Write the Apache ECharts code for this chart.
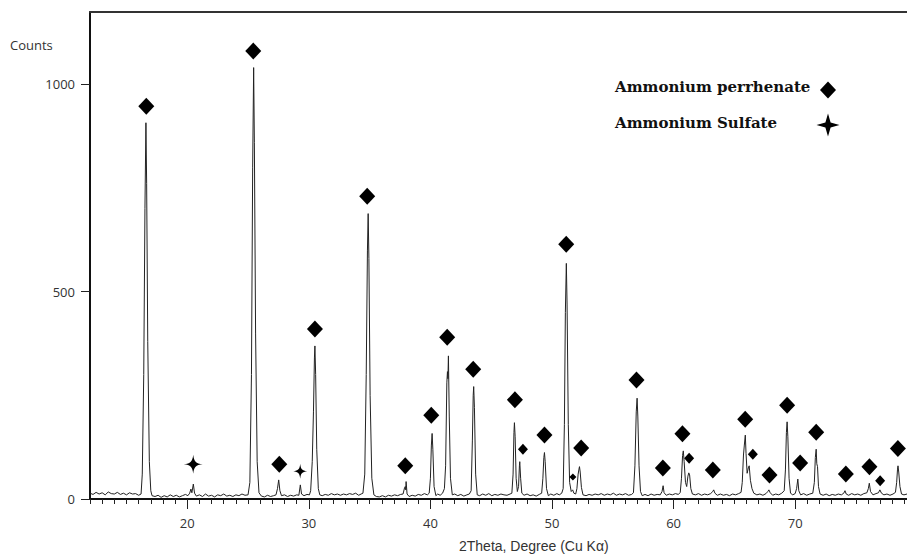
<!DOCTYPE html>
<html>
<head>
<meta charset="utf-8">
<script src="https://cdn.jsdelivr.net/npm/echarts@6/dist/echarts.min.js"></script>
<style>
html,body{margin:0;padding:0;background:#fff;}
#chart{width:907px;height:556px;}
</style>
</head>
<body>
<div id="chart"></div>
<script>
// ---- Data (2Theta in degrees, intensity in counts) ----
var xrdPattern = [
[12.0,14],[12.25,11],[12.5,16],[12.75,12],[13.0,15],[13.25,10],[13.5,17],[13.75,13],[14.0,12],[14.25,16],[14.5,11],[14.75,14],[15.0,10],[15.25,15],[15.5,12],[15.75,13],[16.0,9],
[16.2,12],[16.3,60],[16.42,300],[16.52,700],[16.6,907],[16.66,760],[16.75,380],[16.88,90],[17.0,20],
[17.1,8],[17.35,6],[17.6,9],[17.85,4],[18.1,8],[18.35,5],[18.6,10],[18.85,6],[19.1,9],[19.35,5],[19.6,8],[19.85,11],[20.05,8],
[20.2,14],[20.3,24],[20.38,15],[20.5,36],[20.6,14],[20.75,7],
[21.0,10],[21.25,6],[21.5,12],[21.75,7],[22.0,9],[22.25,5],[22.5,10],[22.75,8],[23.0,12],[23.25,7],[23.5,9],[23.75,6],[24.0,10],[24.25,8],[24.5,12],[24.75,9],
[25.0,10],[25.15,40],[25.28,300],[25.38,800],[25.46,1040],[25.52,860],[25.62,400],[25.75,90],[25.9,15],
[26.1,7],[26.35,5],[26.6,9],[26.85,6],[27.1,8],[27.3,10],
[27.42,25],[27.52,46],[27.62,20],[27.75,8],
[28.0,10],[28.25,6],[28.5,9],[28.75,7],[29.0,10],[29.18,9],[29.3,34],[29.4,12],[29.6,8],[29.85,11],[30.05,10],
[30.15,20],[30.28,90],[30.38,210],[30.46,340],[30.5,369],[30.56,300],[30.65,120],[30.78,25],[30.9,10],
[31.1,8],[31.35,11],[31.6,9],[31.85,13],[32.1,10],[32.35,12],[32.6,9],[32.85,12],[33.1,10],[33.35,13],[33.6,11],[33.85,14],[34.1,9],[34.3,12],
[34.45,14],[34.6,60],[34.72,300],[34.82,600],[34.88,688],[34.94,580],[35.04,250],[35.18,50],[35.35,10],
[35.55,6],[35.8,5],[36.05,8],[36.3,5],[36.55,9],[36.8,7],[37.05,10],[37.3,8],[37.55,11],[37.75,12],
[37.88,28],[37.93,30],[37.97,22],[38.0,42],[38.08,12],[38.25,6],
[38.5,9],[38.75,7],[39.0,11],[39.25,9],[39.5,13],[39.75,10],
[39.9,14],[40.0,50],[40.08,130],[40.14,158],[40.2,120],[40.3,30],[40.45,8],
[40.6,12],[40.8,9],[41.0,14],[41.15,25],
[41.25,80],[41.35,280],[41.4,307],[41.44,290],[41.48,345],[41.55,200],[41.65,50],[41.8,10],
[42.0,12],[42.25,8],[42.5,11],[42.75,7],[43.0,10],[43.2,12],
[43.35,20],[43.45,140],[43.52,250],[43.56,271],[43.62,220],[43.72,60],[43.85,10],
[44.05,8],[44.3,12],[44.55,9],[44.8,13],[45.05,8],[45.3,11],[45.55,9],[45.8,12],[46.05,10],[46.3,9],[46.55,12],[46.7,14],
[46.8,60],[46.87,160],[46.91,184],[46.97,150],[47.05,50],[47.15,18],[47.25,30],[47.32,80],[47.35,90],[47.42,50],[47.52,14],
[47.7,9],[47.95,12],[48.2,8],[48.45,10],[48.7,7],[48.95,11],[49.15,14],
[49.25,50],[49.33,100],[49.38,112],[49.44,90],[49.55,25],[49.7,8],
[49.9,12],[50.15,9],[50.4,13],[50.6,10],[50.8,14],
[50.92,25],[51.02,180],[51.1,450],[51.18,568],[51.24,470],[51.34,180],[51.45,40],[51.58,18],[51.7,22],[51.8,14],[51.95,12],
[52.05,25],[52.15,60],[52.22,72],[52.26,78],[52.32,65],[52.42,28],[52.55,10],
[52.8,8],[53.05,11],[53.3,9],[53.55,12],[53.8,10],[54.05,13],[54.3,9],[54.55,12],[54.8,10],[55.05,14],[55.3,9],[55.55,12],[55.8,10],[56.05,13],[56.3,9],[56.55,11],
[56.7,15],[56.82,80],[56.93,210],[57.0,243],[57.06,200],[57.16,80],[57.28,18],[57.42,8],
[57.65,11],[57.9,8],[58.15,12],[58.4,9],[58.65,11],[58.9,10],[59.05,18],[59.14,32],[59.22,15],[59.4,9],
[59.65,12],[59.9,10],[60.15,13],[60.4,11],[60.55,16],
[60.65,50],[60.74,105],[60.8,116],[60.87,90],[60.98,40],[61.08,30],[61.18,55],[61.25,63],[61.32,58],[61.42,25],[61.55,12],
[61.8,10],[62.05,13],[62.3,9],[62.55,12],[62.8,10],[63.05,13],[63.22,18],[63.3,22],[63.4,14],[63.6,9],
[63.85,12],[64.1,9],[64.35,11],[64.6,8],[64.85,12],[65.1,10],[65.35,13],[65.55,16],
[65.65,40],[65.75,106],[65.82,130],[65.9,154],[65.96,110],[66.05,62],[66.15,75],[66.22,80],[66.32,45],[66.45,25],[66.6,14],
[66.85,10],[67.1,12],[67.35,9],[67.6,13],[67.75,18],[67.84,22],[67.95,15],[68.15,9],
[68.4,12],[68.65,10],[68.9,14],[69.1,20],
[69.2,70],[69.28,160],[69.34,186],[69.4,150],[69.5,50],[69.62,14],[69.8,10],[70.0,13],[70.12,25],[70.22,48],[70.3,20],[70.45,10],
[70.7,13],[70.95,9],[71.2,12],[71.45,14],[71.58,40],
[71.66,100],[71.73,120],[71.78,85],[71.84,78],[71.92,30],[72.05,12],
[72.3,9],[72.55,12],[72.8,8],[73.05,11],[73.3,9],[73.55,12],[73.8,10],[74.0,14],[74.1,20],[74.2,12],[74.4,9],
[74.65,13],[74.9,10],[75.15,12],[75.4,9],[75.65,13],[75.9,15],[76.02,25],[76.1,38],[76.2,18],[76.4,10],
[76.65,13],[76.85,15],[76.97,22],[77.1,14],[77.3,10],[77.55,12],[77.8,9],[78.05,12],[78.25,16],
[78.35,40],[78.42,72],[78.46,80],[78.52,65],[78.62,30],[78.75,12],[78.95,10],[79.2,12]
];

// Phase markers: [2Theta, counts]
var perrhenateMarks = [
[16.63,947],[25.43,1080],[27.57,84],[30.5,410],[34.8,730],[37.93,80],[40.07,202],[41.38,390],
[43.52,313],[46.95,239],[49.38,154],[51.17,614],[52.4,123],[56.95,287],[59.12,75],[60.73,157],
[63.23,70],[65.89,192],[67.89,58],[69.34,226],[70.41,87],[71.73,161],[74.17,60],[76.11,78],[78.45,122]
];
var perrhenateMarksSmall = [[47.61,120],[61.28,98],[66.52,108],[76.99,44]];
var perrhenateMarksTiny = [[51.72,53]];
var sulfateMarks = [[20.49,84]];
var sulfateMarksSmall = [[29.29,67]];

var xTickLabels = [20,30,40,50,60,70];
var yTickLabels = [0,500,1000];
var legendNames = ['Ammonium perrhenate','Ammonium Sulfate'];
var xAxisTitle = '2Theta, Degree (Cu K\u03b1)';
var yAxisTitle = 'Counts';

// minor tick positions (every degree)
var minorTicks = [];
for (var d = 12; d <= 79; d++) minorTicks.push(d);

var starPath = 'path://M0,-10 C0.9,-2.6 2.6,-0.9 10,0 C2.6,0.9 0.9,2.6 0,10 C-0.9,2.6 -2.6,0.9 -10,0 C-2.6,-0.9 -0.9,-2.6 0,-10 Z';

function starPoints(cx, cy, r, ri) {
  return [[cx, cy - r], [cx + ri, cy - ri], [cx + r, cy], [cx + ri, cy + ri],
          [cx, cy + r], [cx - ri, cy + ri], [cx - r, cy], [cx - ri, cy - ri]];
}

var chart = echarts.init(document.getElementById('chart'), null, {renderer:'svg'});
var XMIN = 12, XMAX = 79.2, YMIN = 0, YMAX = 1174;
var markStyle = {color: '#000', opacity: 1};

chart.setOption({
  animation: false,
  backgroundColor: '#fff',
  grid: {left: 90, right: 0, top: 12, bottom: 57},
  xAxis: [
    {
      type: 'value', min: XMIN, max: XMAX, position: 'bottom',
      axisLine: {show: true, onZero: false, lineStyle: {color: '#111', width: 2}},
      axisTick: {show: true, length: 5, customValues: minorTicks, lineStyle: {color: '#222', width: 1}},
      axisLabel: {show: true, customValues: xTickLabels, margin: 17, color: '#333',
                  fontFamily: 'Open Sans', fontSize: 13, formatter: function (v) { return String(v); }},
      splitLine: {show: false}
    },
    {
      type: 'value', min: XMIN, max: XMAX, position: 'bottom', gridIndex: 0,
      axisLine: {show: false},
      axisTick: {show: true, length: 10, customValues: xTickLabels, lineStyle: {color: '#222', width: 1}},
      axisLabel: {show: false},
      splitLine: {show: false}
    },
    {
      type: 'value', min: XMIN, max: XMAX, position: 'top', gridIndex: 0,
      axisLine: {show: true, onZero: false, lineStyle: {color: '#333', width: 2}},
      axisTick: {show: false}, axisLabel: {show: false}, splitLine: {show: false}
    }
  ],
  yAxis: {
    type: 'value', min: YMIN, max: YMAX,
    axisLine: {show: true, onZero: false, lineStyle: {color: '#111', width: 2}},
    axisTick: {show: true, length: 9, customValues: yTickLabels, lineStyle: {color: '#222', width: 1}},
    axisLabel: {show: true, customValues: yTickLabels, margin: 15, color: '#333',
                fontFamily: 'Open Sans', fontSize: 13, formatter: function (v) { return String(v); }},
    splitLine: {show: false}
  },
  series: [
    {
      type: 'line', name: 'pattern', data: xrdPattern, xAxisIndex: 0,
      showSymbol: false, symbol: 'none', smooth: false,
      lineStyle: {color: '#222', width: 1}, z: 2
    },
    {type: 'scatter', name: legendNames[0], data: perrhenateMarks, symbol: 'diamond', symbolSize: [16, 17],
     itemStyle: markStyle, z: 3},
    {type: 'scatter', name: legendNames[0], data: perrhenateMarksSmall, symbol: 'diamond', symbolSize: [10, 11],
     itemStyle: markStyle, z: 3},
    {type: 'scatter', name: legendNames[0], data: perrhenateMarksTiny, symbol: 'diamond', symbolSize: [7, 7],
     itemStyle: markStyle, z: 3},
    {type: 'scatter', name: legendNames[1], data: sulfateMarks, symbol: starPath, symbolSize: [19, 19],
     itemStyle: markStyle, z: 3},
    {type: 'scatter', name: legendNames[1], data: sulfateMarksSmall, symbol: starPath, symbolSize: [14, 15],
     itemStyle: markStyle, z: 3}
  ],
  graphic: [
    {type: 'text', x: 10, y: 38, style: {text: yAxisTitle, fill: '#333', font: '13px "Open Sans"'}},
    {type: 'text', x: 459, y: 539, style: {text: xAxisTitle, fill: '#333', font: '14px "Liberation Sans"'}},
    {type: 'text', x: 615, y: 79, style: {text: legendNames[0], fill: '#111', font: 'bold 15px "DejaVu Serif"'}},
    {type: 'text', x: 615, y: 115, style: {text: legendNames[1], fill: '#111', font: 'bold 15px "DejaVu Serif"'}},
    {type: 'polygon', shape: {points: [[828, 81.5], [836, 90], [828, 98.5], [820, 90]]}, style: {fill: '#000'}},
    {type: 'polygon', shape: {points: starPoints(828, 125, 11.5, 2.6)}, style: {fill: '#000'}}
  ]
});
</script>
</body>
</html>
